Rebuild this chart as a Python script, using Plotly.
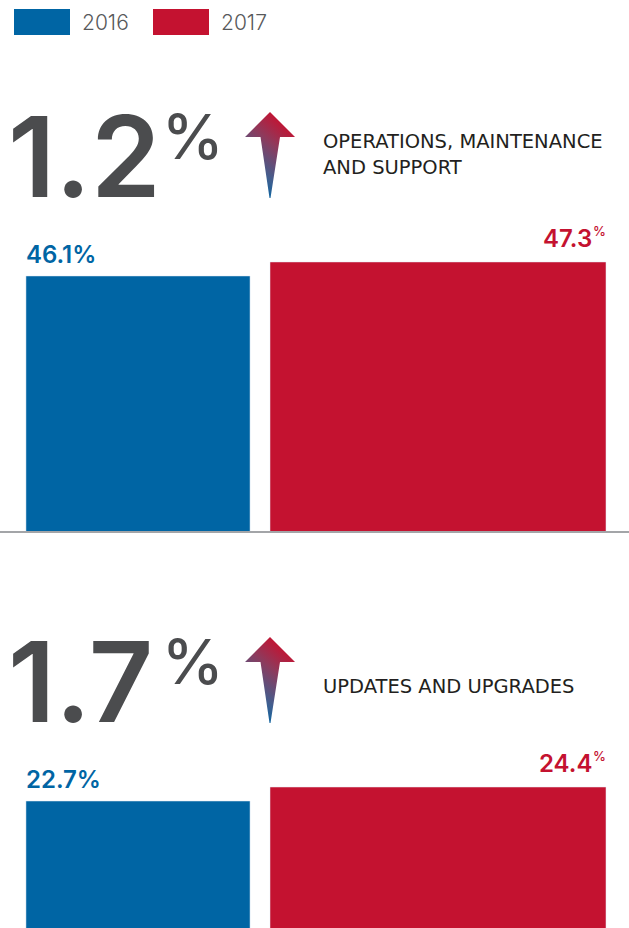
import base64
import plotly.graph_objects as go

# ---------------- data ----------------
years = ["2016", "2017"]
categories = ["OPERATIONS, MAINTENANCE AND SUPPORT", "UPDATES AND UPGRADES"]
category_lines = [["OPERATIONS, MAINTENANCE", "AND SUPPORT"], ["UPDATES AND UPGRADES"]]
share_2016 = [46.1, 22.7]
share_2017 = [47.3, 24.4]

# ---------------- style ----------------
W, H = 629, 928
BLUE = "#0065a4"
RED = "#c41230"
GREY = "#4b4c4e"
FONT = "Inter"
bar_widths = [0.747, 1.12]          # category units (2016 narrow, 2017 wide)
x_range = [-0.46, 1.6367]
y_domains = [[0.4278, 0.7845], [0.0, 0.2241]]
y_ranges = [[24.243, 52.614], [7.279, 32.536]]
header_offsets = [0, 525]            # px offset of each block's header


def px(x):
    return x / W


def py(y):
    return 1 - y / H


arrow_svg = """<svg xmlns='http://www.w3.org/2000/svg' width='50' height='86' viewBox='0 0 50 86'>
<defs><linearGradient id='g' x1='0.8' y1='0.1' x2='0.35' y2='1'>
<stop offset='0' stop-color='#c8102e'/><stop offset='0.35' stop-color='#8e3a5c'/>
<stop offset='0.75' stop-color='#3f5f90'/><stop offset='1' stop-color='#0065a4'/></linearGradient></defs>
<polygon points='25,0 50,25 35,25 25.5,86 24.5,86 15.5,25 0,25' fill='url(#g)'/></svg>"""
arrow_uri = "data:image/svg+xml;base64," + base64.b64encode(arrow_svg.encode()).decode()

fig = go.Figure()
annotations = []
images = []

for i, cat in enumerate(categories):
    xa = "x" if i == 0 else "x2"
    ya = "y" if i == 0 else "y2"
    v16, v17 = share_2016[i], share_2017[i]
    fig.add_trace(go.Bar(x=[years[0]], y=[v16], width=[bar_widths[0]], marker_color=BLUE,
                         name=years[0], xaxis=xa, yaxis=ya, showlegend=False, hoverinfo="skip"))
    fig.add_trace(go.Bar(x=[years[1]], y=[v17], width=[bar_widths[1]], marker_color=RED,
                         name=years[1], xaxis=xa, yaxis=ya, showlegend=False, hoverinfo="skip"))
    # value labels
    annotations.append(dict(xref=xa, yref=ya, x=0 - bar_widths[0] / 2, y=v16,
                            xanchor="left", yanchor="bottom", yshift=5, xshift=-2, showarrow=False,
                            text=f"{v16:.1f}%", font=dict(family=FONT, size=24, color=BLUE, weight=600)))
    annotations.append(dict(xref=xa, yref=ya, x=1 + bar_widths[1] / 2, y=v17,
                            xanchor="right", yanchor="bottom", yshift=7, xshift=-12, showarrow=False,
                            text=f"{v17:.1f}", font=dict(family=FONT, size=24, color=RED, weight=600)))
    annotations.append(dict(xref=xa, yref=ya, x=1 + bar_widths[1] / 2, y=v17,
                            xanchor="right", yanchor="bottom", yshift=21, xshift=2, showarrow=False,
                            text="%", font=dict(family=FONT, size=13, color=RED, weight=500)))
    # header
    off = header_offsets[i]
    change = v17 - v16
    annotations.append(dict(xref="paper", yref="paper", x=px(6), y=py(156 + off),
                            xanchor="left", yanchor="middle", showarrow=False,
                            text=f"{change:.1f}", font=dict(family=FONT, size=112, color=GREY, weight=600)))
    annotations.append(dict(xref="paper", yref="paper", x=px(160), y=py(136 + off),
                            xanchor="left", yanchor="middle", showarrow=False,
                            text="%", font=dict(family=FONT, size=62, color=GREY, weight=500)))
    images.append(dict(source=arrow_uri, xref="paper", yref="paper", x=px(245), y=py(112 + off),
                       sizex=px(50), sizey=86 / H, sizing="stretch", xanchor="left", yanchor="top",
                       layer="above"))
    lines = category_lines[i]
    if len(lines) == 2:
        ys = [141 + off, 168 + off]
    else:
        ys = [161 + off]
    for txt, yy in zip(lines, ys):
        annotations.append(dict(xref="paper", yref="paper", x=px(321), y=py(yy),
                                xanchor="left", yanchor="middle", showarrow=False,
                                text=txt, font=dict(family="DejaVu Sans", size=19.5, color="#231f20")))

# legend (manual, large swatches)
shapes = []
legend_x = [14, 153]
for yr, col, lx in zip(years, [BLUE, RED], legend_x):
    shapes.append(dict(type="rect", xref="paper", yref="paper", x0=px(lx), x1=px(lx + 56),
                       y0=py(35), y1=py(9), fillcolor=col, line_width=0))
    annotations.append(dict(xref="paper", yref="paper", x=px(lx + 66), y=py(23),
                            xanchor="left", yanchor="middle", showarrow=False, text=yr,
                            font=dict(family=FONT, size=21, color="#58595b", weight=300)))

axis_common = dict(type="category", range=x_range, showticklabels=False, showgrid=False,
                   zeroline=False, ticks="", fixedrange=True)
fig.update_layout(
    width=W, height=H, margin=dict(l=0, r=0, t=0, b=0),
    paper_bgcolor="white", plot_bgcolor="white", barmode="overlay",
    xaxis=dict(domain=[0, 1], anchor="y", showline=True, linecolor="#a3a5a8", linewidth=2,
               **axis_common),
    yaxis=dict(domain=y_domains[0], range=y_ranges[0], visible=False, fixedrange=True),
    xaxis2=dict(domain=[0, 1], anchor="y2", showline=False, **axis_common),
    yaxis2=dict(domain=y_domains[1], range=y_ranges[1], visible=False, fixedrange=True),
    annotations=annotations, shapes=shapes, images=images, showlegend=False,
)
fig.write_html("out.html", config={"displayModeBar": False},
               post_script="document.body.style.margin='0';")
